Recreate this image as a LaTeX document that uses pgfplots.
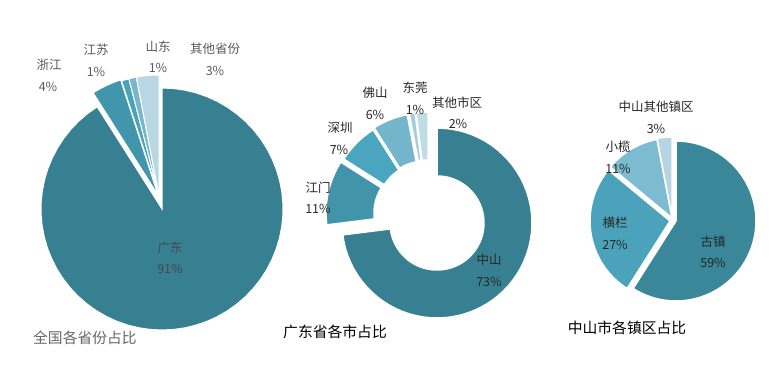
\documentclass[border=0pt]{standalone}
\usepackage{fontspec}
\setmainfont{Noto Sans CJK SC}
\usepackage{pgfplots}
\pgfplotsset{compat=1.18}
\definecolor{pA}{RGB}{55,128,146}
\definecolor{pB}{RGB}{65,150,172}
\definecolor{pC}{RGB}{74,163,187}
\definecolor{pD}{RGB}{120,182,203}
\definecolor{pE}{RGB}{184,215,227}
\definecolor{dA}{RGB}{55,128,146}
\definecolor{dB}{RGB}{66,148,170}
\definecolor{dC}{RGB}{73,166,190}
\definecolor{dD}{RGB}{115,182,204}
\definecolor{dE}{RGB}{165,205,219}
\definecolor{dF}{RGB}{190,220,229}
\definecolor{zA}{RGB}{58,135,153}
\definecolor{zB}{RGB}{75,163,187}
\definecolor{zC}{RGB}{125,188,208}
\definecolor{zD}{RGB}{180,213,225}
\definecolor{lblgray}{RGB}{89,89,89}
\definecolor{ttlgray}{RGB}{102,102,102}
% #1 cx, #2 cy, #3 R, #4 r, #5 start (%), #6 value (%), #7 dx, #8 dy, #9 style
\newcommand{\slice}[9]{\addplot[draw=white, #9, domain=0:4, samples=241, mark=none]
  ({#1+#7+rho(x,#3,#4)*sin(th(x,#5,#6))},{#2+#8-rho(x,#3,#4)*cos(th(x,#5,#6))});}
\begin{document}
\begin{tikzpicture}
\begin{axis}[width=782pt,height=369pt,scale only axis,
  xmin=0,xmax=782,ymin=0,ymax=369,y dir=reverse,hide axis,clip=false,
  declare function={th(\t,\a,\v)=3.6*(\a+\v*min(\t,1)-\v*min(max(\t-2,0),1));
                    rho(\t,\R,\r)=\R-(\R-\r)*min(max(\t-1,0),1)+(\R-\r)*max(\t-3,0);}]
\path (rel axis cs:0,0) rectangle (rel axis cs:1,1);
% ---- chart 1: 全国各省份占比
\slice{162}{209}{121}{0}{0}{91}{0}{0}{fill=pA, line width=1pt}
\slice{162}{209}{121}{0}{91}{4}{-4}{-14}{fill=pB, line width=1pt}
\slice{162}{209}{121}{0}{95}{1}{-3}{-13}{fill=pC, line width=1pt}
\slice{162}{209}{121}{0}{96}{1}{-3}{-13}{fill=pD, line width=1pt}
\slice{162}{209}{121}{0}{97}{3}{-3}{-13}{fill=pE, line width=1pt}
% ---- chart 2: 广东省各市占比
\slice{437}{223}{95}{47}{0}{73}{0}{0}{fill=dA, line width=1.5pt}
\slice{437}{223}{95}{47}{73}{11}{-16}{-10}{fill=dB, line width=1.5pt}
\slice{437}{223}{95}{47}{84}{7}{-13}{-13}{fill=dC, line width=1.5pt}
\slice{437}{223}{95}{47}{91}{6}{-12}{-15}{fill=dD, line width=1.5pt}
\slice{437}{223}{95}{47}{97}{1}{-10}{-16}{fill=dE, line width=1.5pt}
\slice{437}{223}{95}{47}{98}{2}{-9}{-16}{fill=dF, line width=1.5pt}
% ---- chart 3: 中山市各镇区占比
\slice{676}{221}{80}{0}{0}{59}{0}{0}{fill=zA, line width=1.5pt}
\slice{676}{221}{80}{0}{59}{27}{-6}{0}{fill=zB, line width=1.5pt}
\slice{676}{221}{80}{0}{86}{11}{-4}{-3}{fill=zC, line width=1.5pt}
\slice{676}{221}{80}{0}{97}{3}{-4}{-4}{fill=zD, line width=1.5pt}
% ---- labels
\begin{scope}[every node/.style={font=\fontsize{12.5}{15}\selectfont, inner sep=0pt}]
\node[text=lblgray] at (axis cs:49,65) {浙江};
\node[text=lblgray] at (axis cs:48,87) {4\%};
\node[text=lblgray] at (axis cs:96,50) {江苏};
\node[text=lblgray] at (axis cs:96,72) {1\%};
\node[text=lblgray] at (axis cs:158,47) {山东};
\node[text=lblgray] at (axis cs:158,68) {1\%};
\node[text=lblgray] at (axis cs:215,49) {其他省份};
\node[text=lblgray] at (axis cs:215,71) {3\%};
\node[text=lblgray!80!black] at (axis cs:170,248) {广东};
\node[text=lblgray!80!black] at (axis cs:170,269) {91\%};
\node[text=black!85] at (axis cs:318,188) {江门};
\node[text=black!85] at (axis cs:318,209) {11\%};
\node[text=black!85] at (axis cs:340,128) {深圳};
\node[text=black!85] at (axis cs:339,150) {7\%};
\node[text=black!85] at (axis cs:375,93) {佛山};
\node[text=black!85] at (axis cs:375,115) {6\%};
\node[text=black!85] at (axis cs:415,88) {东莞};
\node[text=black!85] at (axis cs:415,110) {1\%};
\node[text=black!85] at (axis cs:457,103) {其他市区};
\node[text=black!85] at (axis cs:458,124) {2\%};
\node[text=black!85] at (axis cs:489,260) {中山};
\node[text=black!85] at (axis cs:489,282) {73\%};
\node[text=black!85] at (axis cs:656,107) {中山其他镇区};
\node[text=black!85] at (axis cs:656,129) {3\%};
\node[text=black!85] at (axis cs:618,147) {小榄};
\node[text=black!85] at (axis cs:618,169) {11\%};
\node[text=black!85] at (axis cs:615,223) {横栏};
\node[text=black!85] at (axis cs:615,245) {27\%};
\node[text=black!85] at (axis cs:713,242) {古镇};
\node[text=black!85] at (axis cs:713,263) {59\%};
\end{scope}
\begin{scope}[every node/.style={font=\fontsize{14.8}{17}\selectfont, inner sep=0pt}]
\node[text=ttlgray] at (axis cs:85,338) {全国各省份占比};
\node[text=black] at (axis cs:335,332) {广东省各市占比};
\node[text=black] at (axis cs:627,328) {中山市各镇区占比};
\end{scope}
\end{axis}
\end{tikzpicture}
\end{document}
